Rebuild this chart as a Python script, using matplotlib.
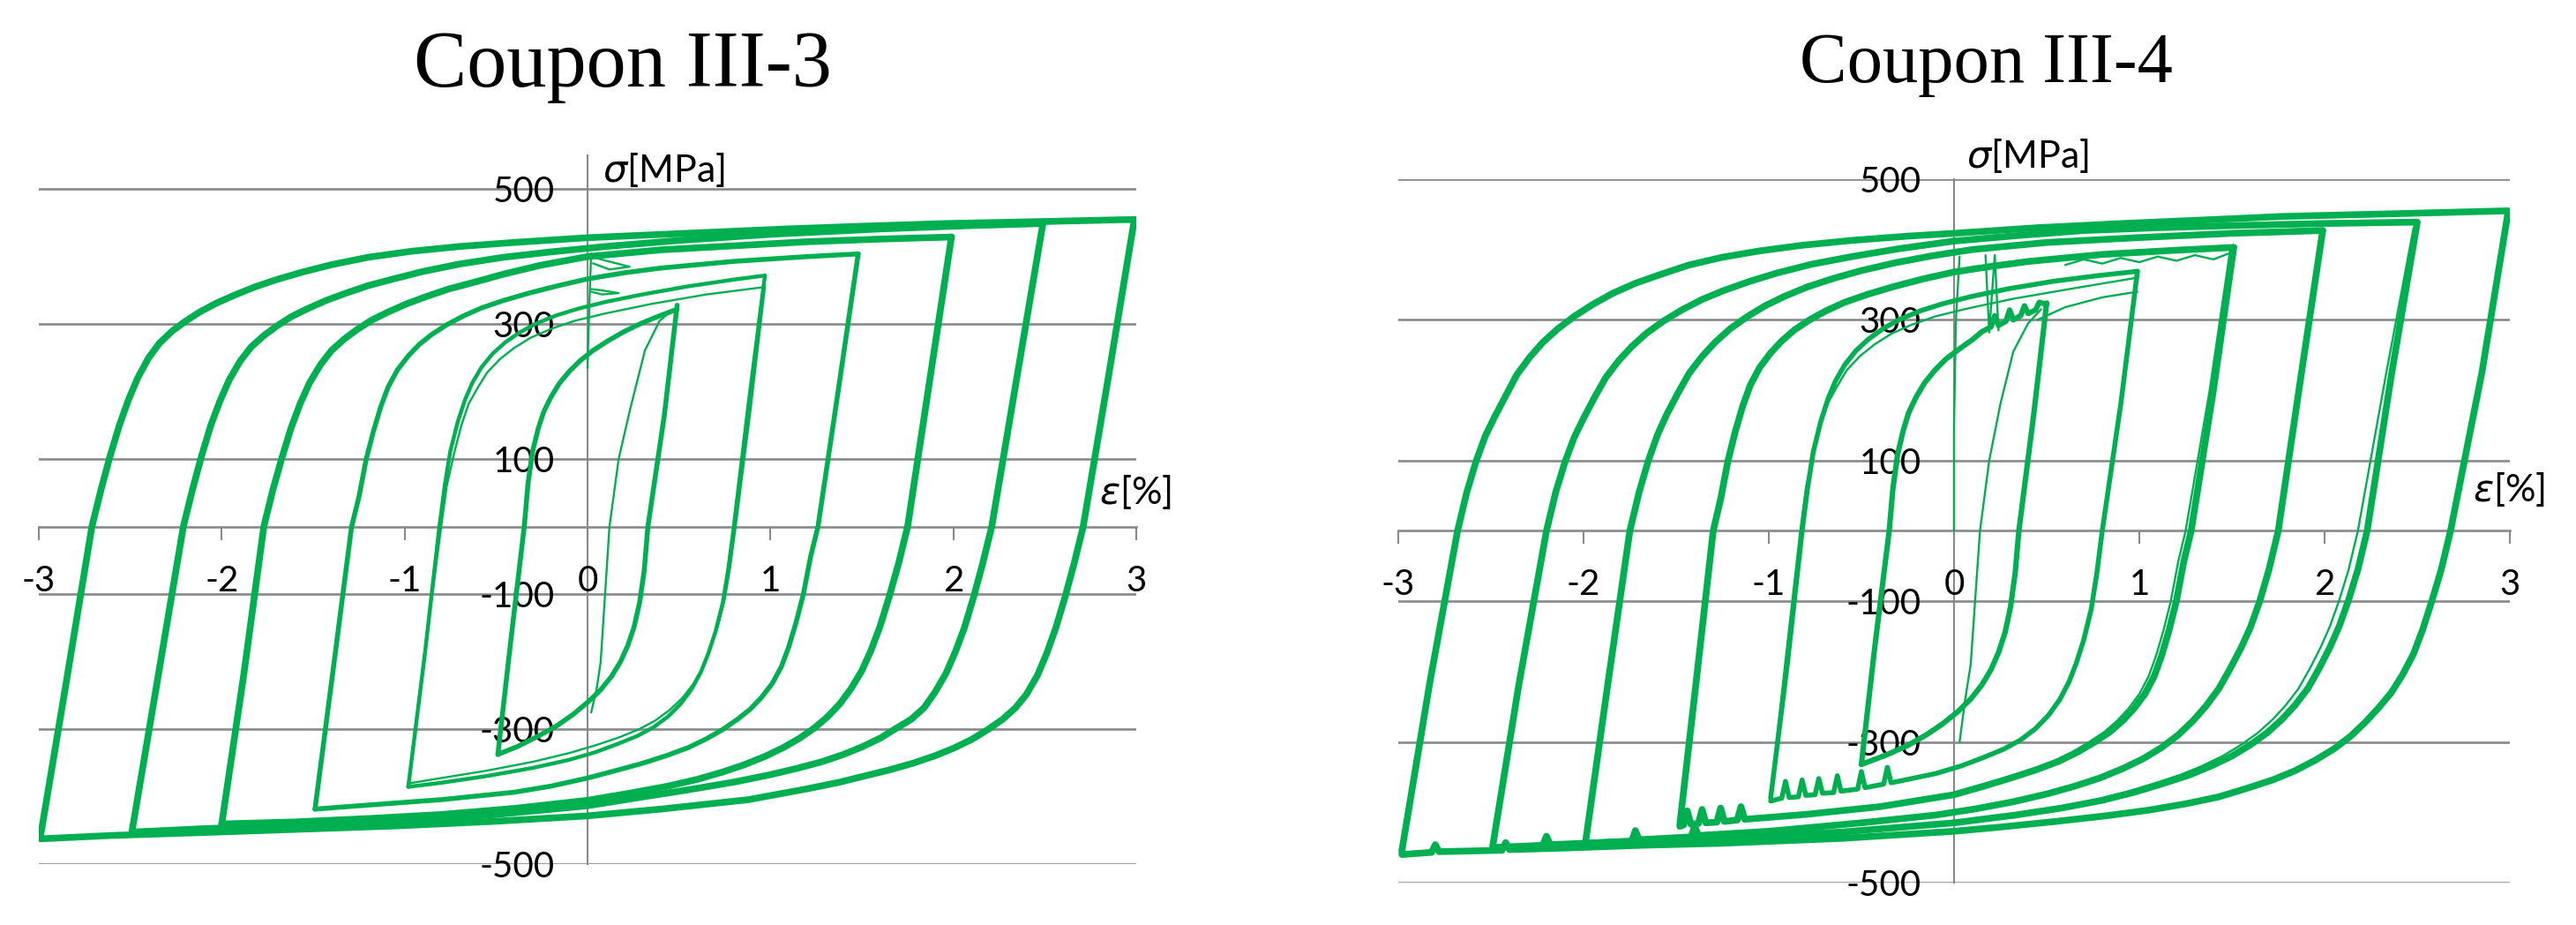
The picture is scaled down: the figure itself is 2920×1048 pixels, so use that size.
import matplotlib
matplotlib.use("Agg")
import matplotlib.pyplot as plt
from matplotlib.ticker import FixedLocator, FixedFormatter

plt.rcParams['axes.unicode_minus'] = False
plt.rcParams['mathtext.fontset'] = 'dejavusans'

GREEN = '#00b050'
GRID = '#898989'

x_ticks = [-3, -2, -1, 0, 1, 2, 3]
x_tick_labels = ['-3', '-2', '-1', '0', '1', '2', '3']
y_ticks = [-500, -300, -100, 100, 300, 500]
y_tick_labels = ['-500', '-300', '-100', '100', '300', '500']

titles = ['Coupon III-3', 'Coupon III-4']

# ---------------- Coupon III-3 : strain [%] / stress [MPa] ----------------
c3_a30_up_e = [-2.99, -2.85, -2.71, -2.66, -2.61, -2.56, -2.51, -2.46, -2.40, -2.34, -2.27, -2.20, -2.12, -2.03, -1.93, -1.82, -1.70, -1.56, -1.40, -1.20, -0.96, -0.70, -0.40, 0.00, 0.50, 1.09, 1.50, 1.96, 2.50, 2.99]
c3_a30_up_s = [-457, -230, 0, 55, 105, 150, 188, 220, 250, 272, 290, 304, 318, 331, 343, 355, 366, 377, 388, 399, 408, 415, 421, 428, 434, 441, 445, 449, 452, 455]
c3_a30_dn_e = [2.99, 2.85, 2.71, 2.66, 2.61, 2.56, 2.51, 2.46, 2.40, 2.34, 2.27, 2.19, 2.10, 2.00, 1.90, 1.78, 1.65, 1.53, 1.38, 1.20, 0.88, 0.40, 0.00, -0.50, -1.06, -1.60, -2.14, -2.60, -2.99, -2.99]
c3_a30_dn_s = [455, 225, 0, -55, -105, -150, -188, -220, -248, -268, -285, -300, -315, -328, -339, -350, -360, -368, -378, -388, -404, -418, -428, -436, -443, -448, -453, -457, -462, -457]

c3_a25_up_e = [-2.49, -2.35, -2.21, -2.16, -2.11, -2.06, -2.01, -1.96, -1.90, -1.84, -1.77, -1.70, -1.62, -1.53, -1.43, -1.32, -1.20, -1.06, -0.90, -0.70, -0.46, -0.20, 0.10, 0.50, 1.00, 1.60, 2.10, 2.49]
c3_a25_up_s = [-450, -225, 0, 55, 105, 150, 186, 217, 245, 266, 283, 297, 311, 323, 335, 346, 357, 367, 378, 389, 399, 407, 415, 424, 433, 441, 446, 449]
c3_a25_dn_e = [2.49, 2.35, 2.21, 2.16, 2.11, 2.06, 2.01, 1.96, 1.90, 1.84, 1.77, 1.69, 1.60, 1.50, 1.40, 1.28, 1.14, 1.00, 0.80, 0.56, 0.30, 0.00, -0.50, -1.00, -1.60, -2.10, -2.49]
c3_a25_dn_s = [449, 225, 0, -55, -105, -150, -186, -217, -245, -268, -285, -298, -313, -326, -337, -348, -358, -367, -378, -389, -400, -413, -426, -435, -442, -447, -452]

c3_a20_up_e = [-2.00, -1.88, -1.77, -1.72, -1.67, -1.62, -1.57, -1.52, -1.46, -1.40, -1.33, -1.26, -1.18, -1.09, -0.99, -0.88, -0.76, -0.62, -0.46, -0.26, 0.00, 0.40, 0.80, 1.20, 1.60, 1.99]
c3_a20_up_s = [-440, -220, 0, 55, 103, 147, 183, 213, 240, 261, 278, 292, 306, 318, 330, 341, 352, 362, 374, 387, 400, 410, 416, 422, 426, 429]
c3_a20_dn_e = [1.99, 1.87, 1.75, 1.70, 1.65, 1.60, 1.55, 1.50, 1.44, 1.38, 1.31, 1.24, 1.16, 1.07, 0.97, 0.86, 0.74, 0.60, 0.44, 0.24, 0.00, -0.40, -0.80, -1.20, -1.60, -2.00]
c3_a20_dn_s = [429, 215, 0, -55, -103, -147, -183, -213, -240, -262, -282, -298, -313, -327, -340, -352, -363, -374, -384, -394, -405, -417, -426, -432, -437, -440]

c3_a15_up_e = [-1.49, -1.39, -1.29, -1.25, -1.21, -1.17, -1.13, -1.09, -1.04, -0.98, -0.92, -0.85, -0.77, -0.68, -0.58, -0.46, -0.32, -0.16, 0.00, 0.20, 0.40, 0.80, 1.20, 1.48]
c3_a15_up_s = [-418, -210, 0, 44, 100, 142, 178, 207, 232, 253, 270, 285, 299, 312, 324, 335, 346, 357, 367, 376, 383, 393, 400, 404]
c3_a15_dn_e = [1.48, 1.37, 1.26, 1.22, 1.18, 1.14, 1.10, 1.06, 1.01, 0.95, 0.89, 0.82, 0.74, 0.65, 0.55, 0.43, 0.29, 0.14, 0.00, -0.20, -0.40, -0.80, -1.20, -1.49]
c3_a15_dn_s = [404, 200, 0, -44, -100, -142, -178, -207, -232, -253, -270, -285, -300, -314, -327, -339, -351, -362, -372, -384, -393, -404, -412, -418]

c3_a10_up_e = [-0.98, -0.89, -0.81, -0.78, -0.75, -0.71, -0.67, -0.63, -0.58, -0.52, -0.45, -0.37, -0.28, -0.17, -0.05, 0.10, 0.30, 0.55, 0.80, 0.97]
c3_a10_up_s = [-385, -190, 0, 62, 112, 155, 188, 213, 236, 256, 273, 288, 301, 313, 323, 333, 344, 356, 366, 372]
c3_a10_dn_e = [0.97, 0.88, 0.80, 0.77, 0.74, 0.70, 0.66, 0.62, 0.57, 0.51, 0.44, 0.36, 0.27, 0.16, 0.04, -0.10, -0.30, -0.55, -0.80, -0.98]
c3_a10_dn_s = [372, 180, 0, -62, -112, -155, -188, -215, -240, -262, -281, -297, -310, -322, -334, -345, -357, -369, -379, -385]

c3_a10b_up_e = [-0.98, -0.89, -0.80, -0.77, -0.73, -0.69, -0.65, -0.60, -0.55, -0.48, -0.40, -0.31, -0.20, -0.07, 0.10, 0.35, 0.65, 0.97]
c3_a10b_up_s = [-380, -185, 0, 60, 108, 150, 182, 206, 228, 248, 265, 280, 293, 305, 316, 330, 344, 355]
c3_a10b_dn_e = [0.97, 0.89, 0.81, 0.78, 0.75, 0.71, 0.67, 0.63, 0.58, 0.52, 0.45, 0.37, 0.28, 0.17, 0.05, -0.10, -0.30, -0.55, -0.80, -0.98]
c3_a10b_dn_s = [355, 170, 0, -60, -108, -150, -182, -208, -232, -253, -271, -287, -300, -312, -323, -335, -348, -361, -372, -380]

c3_a05_up_e = [-0.49, -0.42, -0.346, -0.325, -0.30, -0.27, -0.24, -0.20, -0.155, -0.10, -0.04, 0.03, 0.11, 0.20, 0.30, 0.40, 0.49]
c3_a05_up_s = [-337, -170, 0, 65, 112, 145, 170, 192, 212, 230, 246, 261, 275, 289, 302, 313, 322]
c3_a05_dn_e = [0.49, 0.42, 0.33, 0.31, 0.285, 0.255, 0.22, 0.18, 0.13, 0.07, 0.00, -0.08, -0.17, -0.27, -0.38, -0.49]
c3_a05_dn_s = [328, 165, 0, -65, -112, -148, -176, -200, -222, -242, -260, -278, -295, -310, -325, -337]

c3_first_e = [0.02, 0.05, 0.072, 0.12, 0.17, 0.233, 0.314, 0.394, 0.46]
c3_first_s = [-275, -240, -200, 0, 100, 174, 261, 305, 320]
c3_start_e = [0.00, 0.01, 0.02]
c3_start_s = [235, 330, 405]
c3_small1_e = [0.02, 0.10, 0.23, 0.12, 0.03]
c3_small1_s = [400, 394, 385, 381, 390]
c3_small2_e = [0.02, 0.08, 0.17, 0.08, 0.02]
c3_small2_s = [352, 350, 346, 344, 348]

# ---------------- Coupon III-4 ----------------
c4_a30_up_e = [-2.98, -2.83, -2.68, -2.63, -2.58, -2.53, -2.48, -2.42, -2.36, -2.29, -2.22, -2.14, -2.05, -1.95, -1.84, -1.72, -1.58, -1.43, -1.25, -1.05, -0.82, -0.55, -0.25, 0.00, 0.45, 0.91, 1.35, 1.77, 2.40, 2.99]
c4_a30_up_s = [-454, -216, 0, 55, 99, 135, 162, 192, 222, 247, 268, 287, 305, 322, 338, 352, 365, 378, 389, 398, 406, 413, 419, 423, 431, 437, 442, 447, 451, 455]
c4_a30_dn_e = [2.99, 2.85, 2.68, 2.63, 2.58, 2.53, 2.48, 2.42, 2.36, 2.29, 2.22, 2.14, 2.05, 1.95, 1.84, 1.72, 1.58, 1.43, 1.25, 1.05, 0.82, 0.55, 0.25, 0.00, -0.60, -1.25, -1.70, -2.12, -2.40, -2.42, -2.44, -2.78, -2.80, -2.82, -2.98, -2.98]
c4_a30_dn_s = [452, 226, 0, -55, -99, -140, -175, -205, -230, -252, -272, -292, -310, -326, -341, -354, -366, -378, -388, -397, -405, -413, -421, -427, -437, -444, -447, -451, -453, -443, -454, -456, -446, -457, -460, -454]

c4_a25_up_e = [-2.49, -2.35, -2.20, -2.15, -2.10, -2.05, -2.00, -1.94, -1.88, -1.81, -1.74, -1.66, -1.57, -1.47, -1.36, -1.24, -1.10, -0.95, -0.77, -0.55, -0.30, 0.00, 0.35, 0.70, 1.10, 1.50, 2.00, 2.50]
c4_a25_up_s = [-448, -220, 0, 55, 98, 133, 160, 190, 218, 242, 262, 281, 298, 314, 329, 342, 355, 367, 379, 390, 401, 412, 420, 427, 431, 434, 437, 439]
c4_a25_dn_e = [2.50, 2.36, 2.23, 2.18, 2.13, 2.08, 2.03, 1.97, 1.91, 1.84, 1.77, 1.69, 1.60, 1.50, 1.39, 1.27, 1.13, 0.98, 0.80, 0.58, 0.33, 0.00, -0.60, -1.20, -1.90, -2.18, -2.20, -2.22, -2.49]
c4_a25_dn_s = [438, 220, 0, -55, -98, -135, -165, -196, -224, -248, -268, -287, -304, -320, -334, -347, -359, -371, -383, -394, -404, -415, -428, -436, -443, -446, -434, -447, -450]
c4_a25b_dn_e = [2.48, 2.33, 2.18, 2.13, 2.08, 2.03, 1.98, 1.92, 1.86, 1.79, 1.72, 1.64, 1.55, 1.45, 1.34, 1.22, 1.08, 0.93, 0.75, 0.53, 0.28, 0.00]
c4_a25b_dn_s = [430, 220, 0, -55, -98, -135, -165, -196, -224, -248, -268, -287, -304, -320, -334, -347, -359, -371, -383, -394, -404, -413]

c4_a20_up_e = [-1.99, -1.87, -1.75, -1.70, -1.65, -1.60, -1.55, -1.49, -1.43, -1.36, -1.29, -1.21, -1.12, -1.02, -0.91, -0.79, -0.65, -0.50, -0.32, -0.12, 0.10, 0.50, 1.00, 1.50, 1.99]
c4_a20_up_s = [-444, -220, 0, 55, 100, 137, 166, 196, 224, 248, 268, 287, 304, 320, 334, 347, 359, 370, 381, 391, 400, 410, 417, 423, 427]
c4_a20_dn_e = [1.99, 1.87, 1.75, 1.70, 1.65, 1.60, 1.55, 1.49, 1.43, 1.36, 1.29, 1.21, 1.12, 1.02, 0.91, 0.79, 0.65, 0.50, 0.32, 0.12, -0.10, -0.50, -1.00, -1.38, -1.40, -1.42, -1.70, -1.72, -1.74, -1.99]
c4_a20_dn_s = [427, 215, 0, -55, -100, -137, -166, -196, -224, -249, -270, -290, -308, -324, -338, -351, -363, -374, -385, -395, -404, -415, -427, -433, -420, -435, -439, -426, -441, -444]

c4_a15_up_e = [-1.48, -1.39, -1.30, -1.26, -1.22, -1.18, -1.14, -1.10, -1.05, -0.99, -0.93, -0.86, -0.78, -0.69, -0.59, -0.47, -0.33, -0.17, 0.00, 0.20, 0.40, 0.80, 1.20, 1.51]
c4_a15_up_s = [-417, -210, 0, 45, 100, 142, 178, 207, 232, 253, 270, 286, 300, 313, 325, 336, 347, 358, 368, 376, 383, 393, 399, 403]
c4_a15_dn_e = [1.51, 1.40, 1.28, 1.24, 1.20, 1.16, 1.12, 1.08, 1.03, 0.97, 0.91, 0.84, 0.76, 0.67, 0.57, 0.45, 0.31, 0.16, 0.00, -0.40, -0.80, -1.13, -1.15, -1.17, -1.24, -1.26, -1.28, -1.34, -1.36, -1.38, -1.42, -1.44, -1.46, -1.48]
c4_a15_dn_s = [403, 200, 0, -44, -100, -142, -178, -207, -232, -253, -270, -286, -300, -314, -327, -339, -351, -363, -375, -392, -403, -410, -392, -411, -413, -394, -414, -415, -396, -416, -417, -398, -418, -420]
c4_a15b_dn_e = [1.49, 1.38, 1.25, 1.21, 1.17, 1.13, 1.09, 1.05, 1.00, 0.94, 0.88, 0.81, 0.73, 0.64, 0.54, 0.42, 0.28, 0.13, 0.00]
c4_a15b_dn_s = [398, 200, 0, -44, -100, -142, -178, -207, -232, -253, -270, -286, -300, -314, -327, -339, -351, -362, -372]

c4_a10_up_e = [-0.99, -0.90, -0.82, -0.79, -0.76, -0.72, -0.68, -0.64, -0.59, -0.53, -0.46, -0.38, -0.29, -0.18, -0.06, 0.09, 0.29, 0.54, 0.78, 0.99]
c4_a10_up_s = [-380, -190, 0, 62, 112, 155, 188, 213, 236, 256, 273, 288, 301, 313, 323, 333, 344, 355, 363, 369]
c4_a10_dn_e = [0.99, 0.90, 0.80, 0.77, 0.74, 0.70, 0.66, 0.62, 0.57, 0.51, 0.44, 0.36, 0.27, 0.16, 0.04, -0.10, -0.30, -0.34, -0.36, -0.38, -0.48, -0.50, -0.52, -0.61, -0.63, -0.65, -0.71, -0.73, -0.75, -0.80, -0.82, -0.84, -0.89, -0.91, -0.93, -0.99]
c4_a10_dn_s = [369, 180, 0, -62, -112, -155, -188, -215, -240, -262, -281, -297, -310, -322, -334, -345, -356, -358, -336, -360, -365, -342, -367, -370, -348, -372, -373, -352, -375, -376, -354, -378, -379, -356, -380, -384]
c4_a10b_up_e = [-0.99, -0.91, -0.83, -0.80, -0.76, -0.72, -0.68, -0.63, -0.58, -0.51, -0.43, -0.34, -0.23, -0.10, 0.07, 0.32, 0.65, 0.99]
c4_a10b_up_s = [-376, -185, 0, 60, 108, 150, 182, 206, 228, 248, 265, 280, 293, 305, 316, 330, 345, 360]

c4_a05_up_e = [-0.50, -0.43, -0.35, -0.33, -0.305, -0.275, -0.245, -0.205, -0.16, -0.105, -0.045, 0.025, 0.10, 0.15, 0.20, 0.22, 0.24, 0.28, 0.30, 0.32, 0.36, 0.38, 0.40, 0.44, 0.46, 0.50]
c4_a05_up_s = [-332, -170, 0, 60, 108, 142, 168, 190, 210, 228, 244, 258, 272, 283, 290, 306, 292, 298, 314, 300, 306, 320, 309, 314, 325, 322]
c4_a05_dn_e = [0.50, 0.43, 0.35, 0.33, 0.305, 0.275, 0.24, 0.20, 0.15, 0.09, 0.02, -0.06, -0.15, -0.25, -0.37, -0.50]
c4_a05_dn_s = [324, 165, 0, -60, -108, -145, -173, -197, -219, -239, -257, -274, -290, -305, -319, -332]

c4_start_e = [0.00, 0.00, 0.01, 0.03]
c4_start_s = [0, 150, 300, 390]
c4_first_e = [0.03, 0.06, 0.09, 0.14, 0.19, 0.25, 0.32, 0.40, 0.47]
c4_first_s = [-300, -240, -190, 0, 100, 180, 255, 295, 315]
c4_reload_e = [0.45, 0.60, 0.80, 0.99]
c4_reload_s = [300, 318, 332, 340]
c4_wavy_e = [0.60, 0.70, 0.80, 0.90, 1.00, 1.10, 1.20, 1.30, 1.40, 1.49]
c4_wavy_s = [378, 386, 380, 388, 382, 390, 384, 392, 386, 395]
c4_comb_e = [0.17, 0.19, 0.22, 0.24]
c4_comb_s = [392, 282, 392, 285]


THICK, MID, THIN = 5.5, 4.0, 1.7

panel3 = [
    (c3_a30_up_e, c3_a30_up_s, THICK), (c3_a30_dn_e, c3_a30_dn_s, THICK),
    (c3_a25_up_e, c3_a25_up_s, THICK), (c3_a25_dn_e, c3_a25_dn_s, THICK),
    (c3_a20_up_e, c3_a20_up_s, THICK), (c3_a20_dn_e, c3_a20_dn_s, THICK),
    (c3_a15_up_e, c3_a15_up_s, MID), (c3_a15_dn_e, c3_a15_dn_s, MID),
    (c3_a10_up_e, c3_a10_up_s, 3.2), (c3_a10_dn_e, c3_a10_dn_s, 3.2),
    (c3_a10b_up_e, c3_a10b_up_s, THIN), (c3_a10b_dn_e, c3_a10b_dn_s, THIN),
    (c3_a05_up_e, c3_a05_up_s, MID), (c3_a05_dn_e, c3_a05_dn_s, MID),
    (c3_first_e, c3_first_s, THIN), (c3_start_e, c3_start_s, THIN),
    (c3_small1_e, c3_small1_s, THIN), (c3_small2_e, c3_small2_s, THIN),
]

panel4 = [
    (c4_a30_up_e, c4_a30_up_s, THICK), (c4_a30_dn_e, c4_a30_dn_s, THICK),
    (c4_a25_up_e, c4_a25_up_s, THICK), (c4_a25_dn_e, c4_a25_dn_s, THICK),
    (c4_a25b_dn_e, c4_a25b_dn_s, THIN),
    (c4_a20_up_e, c4_a20_up_s, THICK), (c4_a20_dn_e, c4_a20_dn_s, THICK),
    (c4_a15_up_e, c4_a15_up_s, THICK), (c4_a15_dn_e, c4_a15_dn_s, THICK),
    (c4_a15b_dn_e, c4_a15b_dn_s, THIN),
    (c4_a10_up_e, c4_a10_up_s, MID), (c4_a10_dn_e, c4_a10_dn_s, MID),
    (c4_a10b_up_e, c4_a10b_up_s, THIN),
    (c4_a05_up_e, c4_a05_up_s, 4.4), (c4_a05_dn_e, c4_a05_dn_s, 4.4),
    (c4_start_e, c4_start_s, THIN), (c4_first_e, c4_first_s, THIN),
    (c4_reload_e, c4_reload_s, THIN), (c4_wavy_e, c4_wavy_s, THIN),
    (c4_comb_e, c4_comb_s, THIN),
]


def draw_panel(ax, curves, ytop, sig_pos, eps_pos):
    for e, s, lw in curves:
        ax.plot(e, s, color=GREEN, lw=lw, solid_capstyle='round',
                solid_joinstyle='round', zorder=3)
    ax.set_xlim(-3, 3)
    ax.set_ylim(-500, ytop)
    for side in ['top', 'right']:
        ax.spines[side].set_visible(False)
    ax.spines['left'].set_position(('data', 0))
    ax.spines['bottom'].set_position(('data', 0))
    ax.spines['left'].set_color(GRID)
    ax.spines['left'].set_linewidth(1.5)
    ax.spines['bottom'].set_color(GRID)
    ax.spines['bottom'].set_linewidth(1.9)
    ax.spines['left'].set_zorder(1)
    ax.spines['bottom'].set_zorder(1)
    ax.xaxis.set_major_locator(FixedLocator(x_ticks))
    ax.xaxis.set_major_formatter(FixedFormatter(x_tick_labels))
    ax.yaxis.set_major_locator(FixedLocator(y_ticks))
    ax.yaxis.set_major_formatter(FixedFormatter(y_tick_labels))
    ax.tick_params(axis='x', direction='out', length=10.8, width=1.5,
                   color=GRID, pad=20, labelsize=29)
    ax.tick_params(axis='y', length=0, pad=27, labelsize=29)
    for lab in ax.get_xticklabels() + ax.get_yticklabels():
        lab.set_family(['Lato', 'DejaVu Sans'])
    for y in y_ticks:
        ax.axhline(y, color=GRID, lw=1.9, zorder=1)
    ax.text(sig_pos[0], sig_pos[1], r'$\sigma$[MPa]', ha='left', va='center',
            fontsize=31, family=['Lato', 'DejaVu Sans'], clip_on=False)
    ax.text(eps_pos[0], eps_pos[1], r'$\varepsilon$[%]', ha='left', va='center',
            fontsize=31, family=['Lato', 'DejaVu Sans'], clip_on=False)


fig = plt.figure(figsize=(29.2, 10.48), dpi=100)
ax3 = fig.add_axes([0.01507, 0.0654, 0.426, 0.7667])
ax4 = fig.add_axes([0.5428, 0.0458, 0.4315, 0.7605])

draw_panel(ax3, panel3, 550, (0.08, 529), (2.80, 51))
draw_panel(ax4, panel4, 500, (0.067, 533), (2.80, 59))

fig.text(0.2418, 1 - 98 / 1048, titles[0], ha='center', va='baseline',
         fontsize=65, family='Liberation Serif')
fig.text(0.7709, 1 - 93 / 1048, titles[1], ha='center', va='baseline',
         fontsize=58, family='Liberation Serif')

fig.savefig('out.png', dpi=100, facecolor='white')
